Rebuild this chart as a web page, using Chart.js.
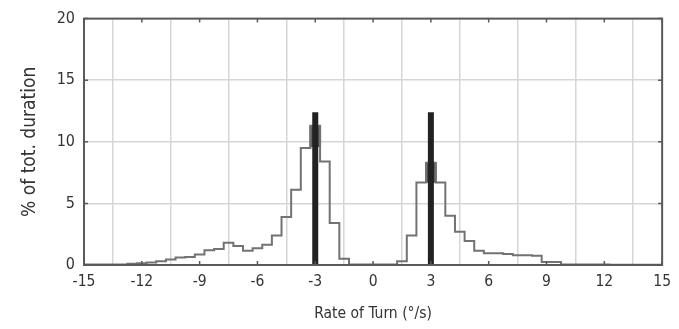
<!DOCTYPE html>
<html>
<head>
<meta charset="utf-8">
<script src="https://cdn.jsdelivr.net/npm/chart.js@4/dist/chart.umd.min.js"></script>
<style>
  html, body { margin: 0; padding: 0; background: #fff; }
  #wrap { width: 679px; height: 329px; }
</style>
</head>
<body>
<div id="wrap"><canvas id="chart" width="679" height="329"></canvas></div>
<script>
// histogram bins (centres, 0.5 deg/s wide) and % of total duration
const binCenters = [
  -15, -14.5, -14, -13.5, -13, -12.5, -12, -11.5, -11, -10.5,
  -10, -9.5, -9, -8.5, -8, -7.5, -7, -6.5, -6, -5.5,
  -5, -4.5, -4, -3.5, -3, -2.5, -2, -1.5, -1, -0.5,
  0, 0.5, 1, 1.5, 2, 2.5, 3, 3.5, 4, 4.5,
  5, 5.5, 6, 6.5, 7, 7.5, 8, 8.5, 9, 9.5,
  10, 10.5, 11, 11.5, 12, 12.5, 13, 13.5, 14, 14.5, 15
];
const durationPct = [
  0.05, 0.05, 0.05, 0.05, 0.05, 0.1, 0.15, 0.2, 0.3, 0.45,
  0.6, 0.65, 0.85, 1.2, 1.3, 1.8, 1.55, 1.15, 1.35, 1.65,
  2.4, 3.9, 6.1, 9.5, 11.3, 8.4, 3.4, 0.5, 0.05, 0.05,
  0.05, 0.05, 0.05, 0.3, 2.4, 6.7, 8.3, 6.7, 4.0, 2.7,
  1.95, 1.15, 0.95, 0.95, 0.9, 0.8, 0.8, 0.75, 0.25, 0.25,
  0.05, 0.05, 0.05, 0.05, 0.05, 0.02, 0.02, 0.02, 0.02, 0.02, 0.02
];

// black markers at the two peaks
const markerX = [-3, 3];
const markerY = [12.4, 12.4];

// dark patch on top of the peak bins
const patchX = [-3, 3];
const patchLow = [9.6, 6.7];
const patchHigh = [11.3, 8.3];

const xTicks = [-15, -12, -9, -6, -3, 0, 3, 6, 9, 12, 15];
const yTicks = [0, 5, 10, 15, 20];

const FONT = '"DejaVu Sans Condensed", "DejaVu Sans", sans-serif';

const histData = binCenters.map((x, i) => ({ x: x, y: durationPct[i] }));

const datasets = [];

// patches first so the line and markers sit on top
datasets.push({
  type: 'bar',
  data: patchX.map((x, i) => ({ x: x, y: [patchLow[i], patchHigh[i]] })),
  backgroundColor: '#555',
  borderWidth: 0,
  barThickness: 11,
  order: 3
});

datasets.push({
  type: 'line',
  data: histData,
  stepped: 'middle',
  borderColor: '#727272',
  borderWidth: 2,
  pointRadius: 0,
  fill: false,
  order: 2
});

markerX.forEach((x, i) => {
  datasets.push({
    type: 'line',
    data: [{ x: x, y: 0 }, { x: x, y: markerY[i] }],
    borderColor: '#222',
    borderWidth: 6,
    borderCapStyle: 'butt',
    pointRadius: 0,
    fill: false,
    order: 1
  });
});

// frame round the plot + inward ticks on all four sides
const framePlugin = {
  id: 'frame',
  afterDatasetsDraw(chart) {
    const { ctx, chartArea: a, scales } = chart;
    ctx.save();
    ctx.strokeStyle = '#5a5a5a';
    ctx.lineWidth = 2;
    ctx.strokeRect(a.left, a.top, a.right - a.left, a.bottom - a.top);
    ctx.lineWidth = 1.5;
    ctx.beginPath();
    xTicks.forEach(v => {
      const px = scales.x.getPixelForValue(v);
      ctx.moveTo(px, a.top); ctx.lineTo(px, a.top + 4);
      ctx.moveTo(px, a.bottom); ctx.lineTo(px, a.bottom - 4);
    });
    yTicks.forEach(v => {
      const py = scales.y.getPixelForValue(v);
      ctx.moveTo(a.left, py); ctx.lineTo(a.left + 4, py);
      ctx.moveTo(a.right, py); ctx.lineTo(a.right - 4, py);
    });
    ctx.stroke();
    ctx.restore();
  }
};

new Chart(document.getElementById('chart'), {
  type: 'line',
  data: { datasets: datasets },
  options: {
    responsive: false,
    animation: false,
    events: [],
    layout: { padding: { left: 0, right: 16, top: 17, bottom: 0 } },
    plugins: { legend: { display: false }, tooltip: { enabled: false } },
    scales: {
      x: {
        type: 'linear',
        min: -15,
        max: 15,
        offset: false,
        afterBuildTicks: s => { s.ticks = xTicks.map(v => ({ value: v })); },
        afterFit: s => { s.height = 64; },
        grid: { color: '#d6d6d6', lineWidth: 1.5, drawTicks: false },
        border: { display: false },
        ticks: { color: '#333', padding: 8, font: { family: FONT, size: 15.5 }, maxRotation: 0, autoSkip: false },
        title: { display: true, text: 'Rate of Turn (°/s)', color: '#333', font: { family: FONT, size: 15.5 }, padding: { top: 0, bottom: 6 } }
      },
      y: {
        type: 'linear',
        min: 0,
        max: 20,
        afterBuildTicks: s => { s.ticks = yTicks.map(v => ({ value: v })); },
        afterFit: s => { s.width = 84; },
        grid: { color: '#d6d6d6', lineWidth: 1.5, drawTicks: false },
        border: { display: false },
        ticks: { color: '#333', padding: 9, font: { family: FONT, size: 16 } },
        title: { display: true, text: '% of tot. duration', color: '#333', font: { family: FONT, size: 19 }, padding: { top: 19, bottom: 4 } }
      }
    }
  },
  plugins: [framePlugin]
});
</script>
</body>
</html>
